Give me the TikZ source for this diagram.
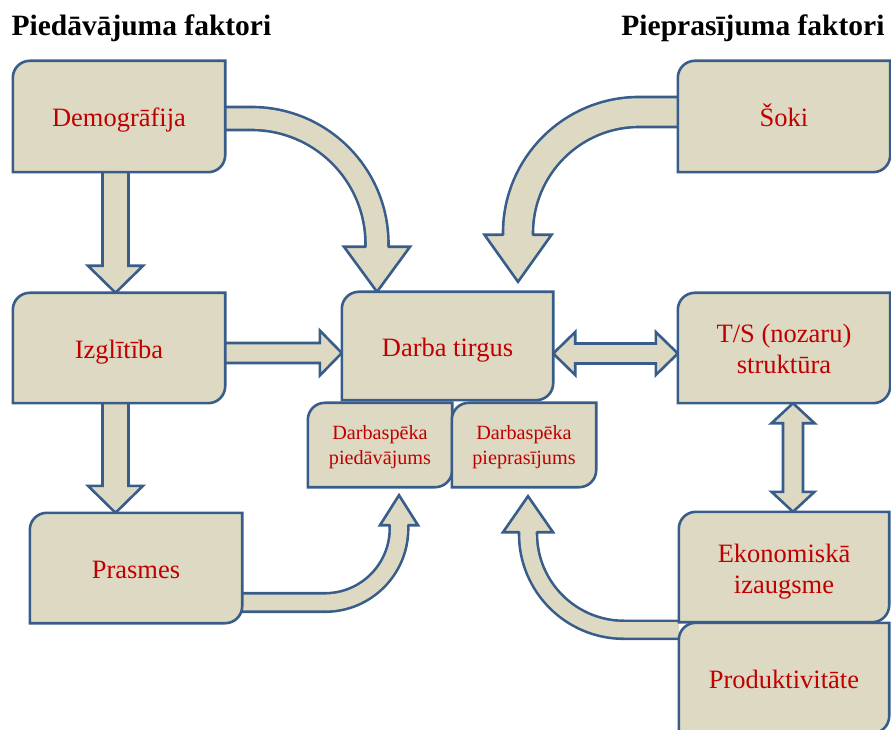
\documentclass[tikz,border=0pt]{standalone}
\usepackage{fontspec}
\setmainfont{Liberation Serif}
\usetikzlibrary{positioning, calc}

\definecolor{tanfill}{HTML}{DDD9C3}
\definecolor{edgeblue}{HTML}{385D8A}
\definecolor{textred}{HTML}{C00000}

\pgfdeclarelayer{arrowlayer}
\pgfdeclarelayer{boxlayer}
\pgfsetlayers{arrowlayer,boxlayer,main}

\tikzset{
  factor/.style={minimum width=212pt, minimum height=110pt, inner sep=0pt, align=center,
    text=textred, font=\fontsize{26.5}{31}\selectfont, text height=21pt, text depth=0pt},
  twoline/.style={text height=52pt, text depth=0pt},
  market/.style={factor, minimum width=144pt, minimum height=84pt, font=\fontsize{20.2}{25}\selectfont,
    text height=38.6pt, text depth=0pt},
  heading/.style={font=\fontsize{29.5}{34}\selectfont\bfseries},
  boxline/.style={draw=edgeblue, fill=tanfill, line width=2.6pt},
  arrowbody/.style={draw=edgeblue, fill=tanfill, line width=2.6pt},
  shaft/.style={draw=edgeblue, double=tanfill, line width=2.6pt},
}

% box with round top left and bottom right corners
\newcommand{\factorshape}[1]{%
  \draw[boxline] (#1.south west) -- ([yshift=-17pt]#1.north west)
    arc[start angle=180, end angle=90, radius=17pt] -- (#1.north east)
    -- ([yshift=17pt]#1.south east) arc[start angle=0, end angle=-90, radius=17pt] -- cycle;}

% straight block arrow: start, tip, angle, shaft half, head half, head length
\newcommand{\blockarrow}[6]{%
  \draw[arrowbody] ($(#1)+(#3+90:#4)$) -- ($(#2)+(#3+180:#6)+(#3+90:#4)$)
    -- ($(#2)+(#3+180:#6)+(#3+90:#5)$) -- (#2)
    -- ($(#2)+(#3+180:#6)+(#3-90:#5)$) -- ($(#2)+(#3+180:#6)+(#3-90:#4)$)
    -- ($(#1)+(#3-90:#4)$);}

% two headed block arrow: tip a, tip b, angle, shaft half, head half, head length
\newcommand{\doublearrow}[6]{%
  \draw[arrowbody] (#1) -- ($(#1)+(#3:#6)+(#3+90:#5)$) -- ($(#1)+(#3:#6)+(#3+90:#4)$)
    -- ($(#2)+(#3+180:#6)+(#3+90:#4)$) -- ($(#2)+(#3+180:#6)+(#3+90:#5)$) -- (#2)
    -- ($(#2)+(#3+180:#6)+(#3-90:#5)$) -- ($(#2)+(#3+180:#6)+(#3-90:#4)$)
    -- ($(#1)+(#3:#6)+(#3-90:#4)$) -- ($(#1)+(#3:#6)+(#3-90:#5)$) -- cycle;}

% bent block arrow: start, tip, head angle, radius, shaft half, head half, head length, double distance
\newcommand{\bentarrow}[8]{%
  \coordinate (hb) at ($(#2)+(#3+180:#7)$);
  \draw[shaft, double distance=#8pt, rounded corners=#4pt] (#1) -| (hb);
  \fill[tanfill] ($(hb)+(#3+90:#6)$) -- (#2) -- ($(hb)+(#3-90:#6)$) -- cycle;
  \draw[edgeblue, line width=2.6pt, line cap=round] ($(hb)+(#3+90:#5)$) -- ($(hb)+(#3+90:#6)$)
    -- (#2) -- ($(hb)+(#3-90:#6)$) -- ($(hb)+(#3-90:#5)$);}

\begin{document}
\begin{tikzpicture}[x=1pt, y=1pt, node distance=231.5pt, on grid]
\useasboundingbox (0,0) rectangle (891,729);

% titles
\node[heading, anchor=base west] (supply) at (8,693) {Piedāvājuma faktori};
\node[heading, anchor=base east] (demand) at (888,693) {Pieprasījuma faktori};

% supply side
\node[factor, minimum height=111pt] (demo) at (119,612.5) {Demogrāfija};
\node[factor] (izgl) [below=of demo] {Izglītība};
\node[factor] (prasmes) [below right=220pt and 17pt of izgl] {Prasmes};

% labour market
\node[factor, minimum width=211pt, minimum height=108pt] (darba) at (447.5,383) {Darba tirgus};
\node[market] (pied) at (380,284) {Darbaspēka\\piedāvājums};
\node[market] (piepr) [right=144pt of pied] {Darbaspēka\\pieprasījums};

% demand side
\node[factor, minimum height=111pt] (soki) at (784,612.5) {Šoki};
\node[factor, twoline] (ts) [below=of soki] {T/S (nozaru)\\struktūra};
\node[factor, twoline, minimum width=210pt] (eko) [below=219pt of ts] {Ekonomiskā\\izaugsme};
\node[factor, minimum width=210pt] (prod) [below=111pt of eko] {Produktivitāte};

\begin{pgfonlayer}{boxlayer}
  \foreach \n in {demo,izgl,prasmes,darba,pied,piepr,soki,ts,eko,prod} {\factorshape{\n}}
\end{pgfonlayer}

\begin{pgfonlayer}{arrowlayer}
  % straight arrows
  \coordinate (demo-out) at ([xshift=-3.5pt]demo.south);
  \coordinate (izgl-in) at (demo-out |- izgl.north);
  \blockarrow{demo-out}{izgl-in}{-90}{13}{27.5}{27}
  \coordinate (izgl-down) at ([xshift=-3.5pt]izgl.south);
  \coordinate (prasmes-in) at (izgl-down |- prasmes.north);
  \blockarrow{izgl-down}{prasmes-in}{-90}{13}{27.5}{27}
  \coordinate (izgl-out) at ([yshift=-5pt]izgl.east);
  \coordinate (darba-in) at (izgl-out -| darba.west);
  \blockarrow{izgl-out}{darba-in}{0}{10}{22.5}{22}
  \coordinate (darba-out) at ([yshift=-7.5pt]darba.east);
  \coordinate (ts-in) at (darba-out -| ts.west);
  \doublearrow{darba-out}{ts-in}{0}{10}{21.5}{22}
  \coordinate (ts-out) at ([xshift=9pt]ts.south);
  \coordinate (eko-in) at (ts-out |- eko.north);
  \doublearrow{ts-out}{eko-in}{-90}{10}{21.5}{20}

  % bent arrows
  \coordinate (demo-bend) at ([yshift=-2pt]demo.east);
  \coordinate (darba-top1) at ([xshift=-70.5pt]darba.north);
  \bentarrow{demo-bend}{darba-top1}{-90}{125.5}{11.5}{33}{45}{20.4}
  \coordinate (soki-bend) at ([yshift=4.5pt]soki.west);
  \coordinate (darba-top2) at ([xshift=70.5pt,yshift=10pt]darba.north);
  \bentarrow{soki-bend}{darba-top2}{-90}{121}{15}{33.5}{47}{27.4}
  \coordinate (prasmes-bend) at ([yshift=-34.5pt]prasmes.east);
  \coordinate (pied-in) at ([xshift=19pt,yshift=-8pt]pied.south);
  \bentarrow{prasmes-bend}{pied-in}{90}{74}{9.25}{19}{30}{15.9}
  \coordinate (prod-bend) at ([yshift=-7pt]prod.north west);
  \coordinate (piepr-in) at ([xshift=4pt,yshift=-9pt]piepr.south);
  \bentarrow{prod-bend}{piepr-in}{90}{96}{9}{25}{36}{15.4}
\end{pgfonlayer}
\end{tikzpicture}
\end{document}
